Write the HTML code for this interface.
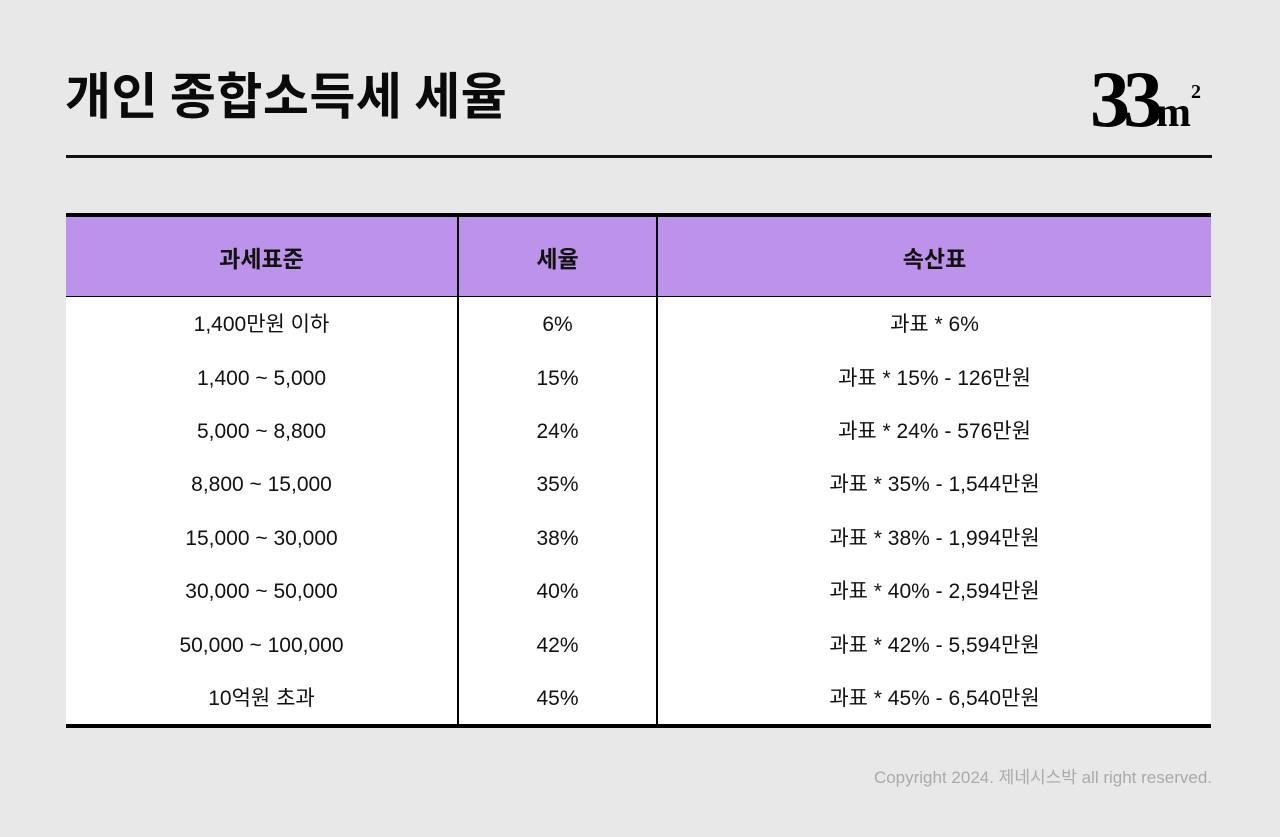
<!DOCTYPE html>
<html><head><meta charset="utf-8"><style>
body{margin:0;width:1280px;height:837px;background:#e8e8e8;font-family:"Liberation Sans","Noto Sans CJK KR",sans-serif;position:relative;overflow:hidden;color:#111}
.title{position:absolute;left:65px;top:60px;font-size:50px;font-weight:700;letter-spacing:0.5px;font-family:"Noto Sans CJK KR",sans-serif;line-height:66px;color:#0a0a0a}
.rule{position:absolute;left:66px;top:155px;width:1146px;height:3px;background:#111}
.logo{position:absolute;left:1090px;top:44px;font-family:"Liberation Serif",serif;font-weight:700;font-size:80px;letter-spacing:-7px;line-height:96px;color:#000}
.logo span{font-size:42px;letter-spacing:0}
.logo sup{font-size:20px;letter-spacing:0;vertical-align:28px}
table{position:absolute;left:66px;top:213px;width:1145px;border-collapse:collapse;border-top:4px solid #000;border-bottom:4px solid #000;background:#fff;font-family:"Liberation Sans","Noto Sans CJK KR",sans-serif}
th{background:#bd92ea;height:79px;font-size:23px;font-weight:700;border-bottom:1px solid #000;padding:0;font-family:"Noto Sans CJK KR",sans-serif;line-height:30px}
td{height:50.4px;font-size:21px;text-align:center;padding:3px 0 0 0;line-height:24px}
th+th,td+td{border-left:2px solid #000}
.copy{position:absolute;right:68px;top:766px;font-size:17px;line-height:24px;color:#aaa;font-family:"Liberation Sans","Noto Sans CJK KR",sans-serif}
</style></head><body>
<div class="title">개인 종합소득세 세율</div>
<div class="logo">33<span>m</span><sup>2</sup></div>
<div class="rule"></div>
<table>
<colgroup><col style="width:392px"><col style="width:199px"><col></colgroup>
<tr><th>과세표준</th><th>세율</th><th>속산표</th></tr>
<tr><td>1,400만원 이하</td><td>6%</td><td>과표 * 6%</td></tr>
<tr><td>1,400 ~ 5,000</td><td>15%</td><td>과표 * 15% - 126만원</td></tr>
<tr><td>5,000 ~ 8,800</td><td>24%</td><td>과표 * 24% - 576만원</td></tr>
<tr><td>8,800 ~ 15,000</td><td>35%</td><td>과표 * 35% - 1,544만원</td></tr>
<tr><td>15,000 ~ 30,000</td><td>38%</td><td>과표 * 38% - 1,994만원</td></tr>
<tr><td>30,000 ~ 50,000</td><td>40%</td><td>과표 * 40% - 2,594만원</td></tr>
<tr><td>50,000 ~ 100,000</td><td>42%</td><td>과표 * 42% - 5,594만원</td></tr>
<tr><td>10억원 초과</td><td>45%</td><td>과표 * 45% - 6,540만원</td></tr>
</table>
<div class="copy">Copyright 2024. 제네시스박 all right reserved.</div>
</body></html>
